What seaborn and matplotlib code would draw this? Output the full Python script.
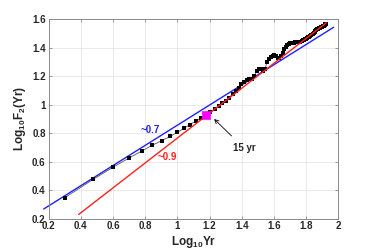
import numpy as np
import pandas as pd
import matplotlib
matplotlib.use("Agg")
import matplotlib.pyplot as plt
import seaborn as sns

years = np.arange(2, 85)
log_f2 = [
    0.347, 0.476, 0.562, 0.625, 0.674, 0.716, 0.747, 0.777, 0.805,
    0.834, 0.860, 0.885, 0.907, 0.930, 0.948, 0.968, 0.990, 1.010,
    1.028, 1.048, 1.077, 1.098, 1.118, 1.143, 1.158, 1.170, 1.178,
    1.180, 1.200, 1.232, 1.246, 1.248, 1.238, 1.247, 1.300, 1.318,
    1.332, 1.342, 1.346, 1.341, 1.330, 1.326, 1.342, 1.365, 1.388,
    1.404, 1.417, 1.424, 1.430, 1.432, 1.432, 1.434, 1.436, 1.437,
    1.439, 1.440, 1.442, 1.447, 1.451, 1.455, 1.459, 1.462, 1.466,
    1.471, 1.477, 1.483, 1.490, 1.496, 1.502, 1.509, 1.516, 1.522,
    1.527, 1.531, 1.535, 1.538, 1.542, 1.546, 1.550, 1.554, 1.559,
    1.563, 1.568,
]

# fitted lines (end points)
fit07_x = [0.17, 1.97]
fit07_y = [0.268, 1.542]
fit09_x = [0.3875, 1.925]
fit09_y = [0.230, 1.574]

# crossover point
cross_year = 15
cross_val = 0.930

xticks = [0.2, 0.4, 0.6, 0.8, 1, 1.2, 1.4, 1.6, 1.8, 2]
yticks = [0.2, 0.4, 0.6, 0.8, 1, 1.2, 1.4, 1.6]

sns.set_style("whitegrid")
plt.rcParams["font.family"] = ["Liberation Sans", "DejaVu Sans"]
plt.rcParams["font.weight"] = "bold"
plt.rcParams["mathtext.fontset"] = "custom"
plt.rcParams["mathtext.rm"] = "Liberation Sans:bold"
plt.rcParams["mathtext.bf"] = "Liberation Sans:bold"
plt.rcParams["mathtext.default"] = "bf"

df = pd.DataFrame({"x": np.log10(years), "y": log_f2})

fig = plt.figure(figsize=(3.74, 2.52), dpi=100)
ax = fig.add_axes([0.1297, 0.1321, 0.7753, 0.7925])

sns.lineplot(data=df, x="x", y="y", ax=ax, color="#555555", lw=0.6,
             marker="s", markersize=2.3, markerfacecolor="black",
             markeredgecolor="black", markeredgewidth=0, zorder=3)
sns.lineplot(x=fit07_x, y=fit07_y, ax=ax, color="#1f1fff", lw=1.0,
             clip_on=False, zorder=2)
sns.lineplot(x=fit09_x, y=fit09_y, ax=ax, color="#ff2020", lw=1.0, zorder=4)
sns.scatterplot(x=[np.log10(cross_year)], y=[cross_val], ax=ax, marker="s",
                s=36, color="#ff00ff", edgecolor="#ff00ff", zorder=5)

ax.text(0.831, 0.825, "~0.7", color="#1f1fff", fontsize=7, fontweight="bold",
        ha="center", va="center")
ax.text(0.939, 0.634, "~0.9", color="#ff2020", fontsize=7, fontweight="bold",
        ha="center", va="center")
ax.annotate("15 yr", xy=(1.228, 0.899), xytext=(1.414, 0.695),
            fontsize=7, fontweight="bold", ha="center", va="center",
            arrowprops=dict(arrowstyle="->", color="black", lw=0.6,
                            shrinkB=0, shrinkA=4))

ax.set_xlim(0.2, 2)
ax.set_ylim(0.2, 1.6)
ax.set_xticks(xticks)
ax.set_xticklabels([f"{t:g}" for t in xticks])
ax.set_yticks(yticks)
ax.set_yticklabels([f"{t:g}" for t in yticks])
ax.tick_params(direction="in", length=2.5, width=0.6, colors="#8a8a8a",
               labelcolor="#262626", labelsize=7, top=True, right=True,
               left=True, bottom=True, pad=2)
for lab in ax.get_xticklabels() + ax.get_yticklabels():
    lab.set_fontweight("bold")
ax.grid(True, color="#e6e6e6", lw=0.6)
for sp in ax.spines.values():
    sp.set_color("#8a8a8a")
    sp.set_linewidth(0.7)

ax.set_xlabel(r"Log$_{\mathbf{10}}$Yr", fontsize=8.5, fontweight="bold",
              color="#262626", labelpad=2)
ax.set_ylabel(r"Log$_{\mathbf{10}}$F$_{\mathbf{2}}$(Yr)", fontsize=8.5,
              fontweight="bold", color="#262626", labelpad=3)

fig.savefig("out.png", dpi=100)
